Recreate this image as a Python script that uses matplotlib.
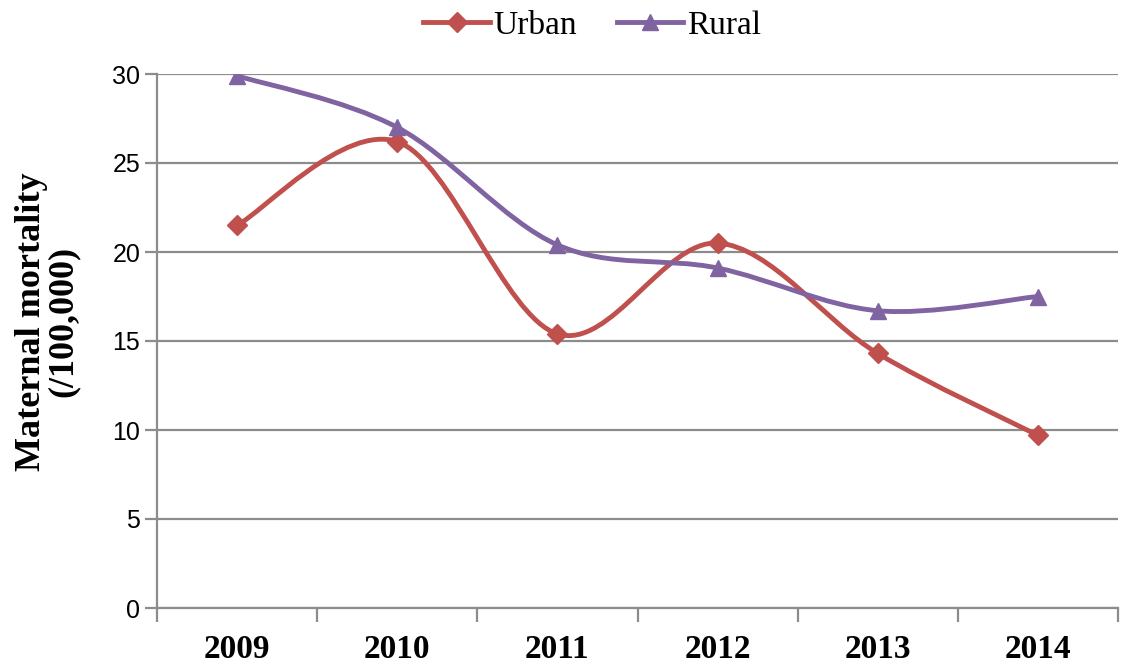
import matplotlib
matplotlib.use("Agg")
import matplotlib.pyplot as plt
from matplotlib.path import Path
from matplotlib.patches import PathPatch
from matplotlib.lines import Line2D

years = ["2009", "2010", "2011", "2012", "2013", "2014"]
urban = [21.5, 26.2, 15.4, 20.5, 14.3, 9.7]
rural = [29.9, 27.0, 20.4, 19.1, 16.7, 17.5]

RED = "#C0504D"
PURPLE = "#8064A2"
GRID = "#8C8C8C"
SERIF = "Liberation Serif"
SANS = "Liberation Sans"


def smooth_path(xs, ys):
    # Bezier segments with Catmull-Rom style control points (like a spreadsheet "smoothed line")
    pts = list(zip(xs, ys))
    n = len(pts)
    verts = [pts[0]]
    codes = [Path.MOVETO]
    for i in range(n - 1):
        p0 = pts[i - 1] if i > 0 else pts[i]
        p1 = pts[i]
        p2 = pts[i + 1]
        p3 = pts[i + 2] if i + 2 < n else pts[i + 1]
        c1 = (p1[0] + (p2[0] - p0[0]) / 6, p1[1] + (p2[1] - p0[1]) / 6)
        c2 = (p2[0] - (p3[0] - p1[0]) / 6, p2[1] - (p3[1] - p1[1]) / 6)
        verts += [c1, c2, p2]
        codes += [Path.CURVE4] * 3
    return Path(verts, codes)


fig = plt.figure(figsize=(11.28, 6.66), dpi=100)
ax = fig.add_axes([157 / 1128, 1 - 608 / 666, (1118 - 157) / 1128, (608 - 74) / 666])

x = list(range(len(years)))
for vals, color, marker, ms in [(urban, RED, "D", 10), (rural, PURPLE, "^", 12)]:
    ax.add_patch(PathPatch(smooth_path(x, vals), facecolor="none", edgecolor=color,
                           lw=3.5, zorder=3, capstyle="round"))
    ax.plot(x, vals, linestyle="none", marker=marker, ms=ms, color=color, zorder=4)

ax.set_xlim(-0.5, len(years) - 0.5)
ax.set_ylim(0, 30)
ax.set_yticks(range(0, 31, 5))
ax.yaxis.grid(True, color=GRID, lw=1.6)
ax.set_axisbelow(True)

ax.set_xticks(x)
ax.set_xticklabels(years, fontsize=24, fontweight="bold", family=SERIF)
ax.set_xticks([i - 0.5 for i in range(len(years) + 1)], minor=True)
ax.tick_params(axis="x", which="major", length=0, pad=19)
ax.tick_params(axis="x", which="minor", length=10, width=1.6, color=GRID)
ax.tick_params(axis="y", length=9, width=1.6, color=GRID, pad=3)
for lab in ax.get_yticklabels():
    lab.set_fontsize(18)
    lab.set_family(SANS)

for s in ["top", "right"]:
    ax.spines[s].set_visible(False)
for s in ["left", "bottom"]:
    ax.spines[s].set_color(GRID)
    ax.spines[s].set_linewidth(1.6)

ax.set_ylabel("Maternal mortality\n(/100,000)", fontsize=26, fontweight="bold",
              family=SERIF, linespacing=0.95)
ax.yaxis.set_label_coords(-0.08, 0.536)

handles = [Line2D([], [], color=RED, lw=3.5, marker="D", ms=10),
           Line2D([], [], color=PURPLE, lw=3.5, marker="^", ms=12)]
fig.legend(handles, ["Urban", "Rural"], loc="upper center", bbox_to_anchor=(592 / 1128, 1.03),
           ncol=2, frameon=False, prop={"family": SERIF, "size": 24},
           handlelength=2.0, handletextpad=0.1, columnspacing=1.2)

fig.savefig("out.png", dpi=100)
